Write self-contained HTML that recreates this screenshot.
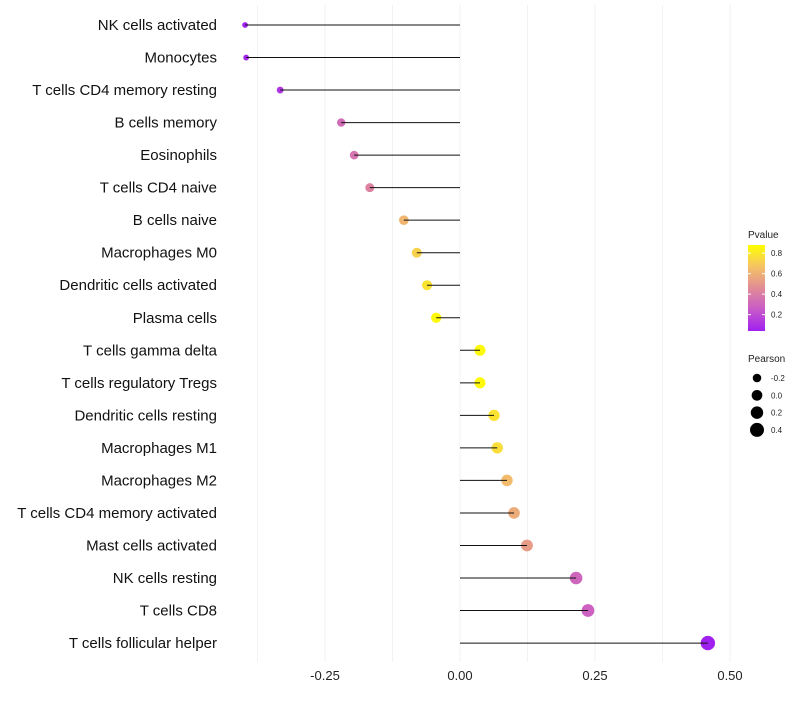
<!DOCTYPE html>
<html><head><meta charset="utf-8"><style>
body{margin:0;background:#fff;}
svg{font-family:"Liberation Sans",sans-serif;}
</style></head><body>
<svg id="chart" width="800" height="700"></svg>
<script>
const categories=["NK cells activated","Monocytes","T cells CD4 memory resting","B cells memory","Eosinophils","T cells CD4 naive","B cells naive","Macrophages M0","Dendritic cells activated","Plasma cells","T cells gamma delta","T cells regulatory  Tregs ","Dendritic cells resting","Macrophages M1","Macrophages M2","T cells CD4 memory activated","Mast cells activated","NK cells resting","T cells CD8","T cells follicular helper"];
const pearson=[-0.398,-0.396,-0.333,-0.220,-0.196,-0.167,-0.104,-0.080,-0.061,-0.044,0.037,0.037,0.063,0.069,0.087,0.100,0.124,0.215,0.237,0.459];
const pvalue=[0.05,0.06,0.12,0.32,0.36,0.42,0.62,0.72,0.78,0.86,0.86,0.86,0.78,0.76,0.64,0.58,0.52,0.30,0.28,0.03];
const xTicks=[-0.25,0,0.25,0.5];
const xTickLabels=["-0.25","0.00","0.25","0.50"];
const pLegend=[0.8,0.6,0.4,0.2];
const sizeLegend=[-0.2,0.0,0.2,0.4];

const svg=document.getElementById('chart');
const NS="http://www.w3.org/2000/svg";
function el(t,a){const e=document.createElementNS(NS,t);for(const k in a)e.setAttribute(k,a[k]);return e;}
const xScale=v=>460+v*540;
const yScale=i=>25+i*32.53;
const rScale=p=>Math.sqrt(Math.max(3,28.6+50.8*p));
const stops=[[0,[160,32,240]],[0.25,[200,90,200]],[0.5,[225,140,150]],[0.75,[245,195,100]],[1,[255,255,0]]];
function color(p){const t=Math.max(0,Math.min(1,(p-0.04)/0.84));
 for(let i=0;i<stops.length-1;i++){const a=stops[i],b=stops[i+1];if(t<=b[0]){const f=(t-a[0])/(b[0]-a[0]);
 const c=a[1].map((v,j)=>Math.round(v+(b[1][j]-v)*f));return `rgb(${c})`;}}return 'rgb(255,255,0)';}
for(let g=-0.375;g<=0.5001;g+=0.125){
 const gl=el('line',{x1:xScale(g),x2:xScale(g),y1:5,y2:662,stroke:'#f2f2f2','stroke-width':1});
 
 
 svg.appendChild(gl);}
xTicks.forEach((v,i)=>{const t=el('text',{x:xScale(v),y:680,'text-anchor':'middle','font-size':13,fill:'#222'});
 t.textContent=xTickLabels[i];
 
 
 svg.appendChild(t);});
categories.forEach((c,i)=>{
 const y=yScale(i);
 const t=el('text',{x:217,y:y+5,'text-anchor':'end','font-size':15,fill:'#111'});t.textContent=c;
 
 
 svg.appendChild(t);
 const pt=el('circle',{cx:xScale(pearson[i]),cy:y,r:rScale(pearson[i]),fill:color(pvalue[i])});
 
 
 svg.appendChild(pt);
 const ln=el('line',{x1:xScale(0),x2:xScale(pearson[i]),y1:y,y2:y,stroke:'#111','stroke-width':1});
 
 
 svg.appendChild(ln);
});
const defs=el('defs',{});const lg=el('linearGradient',{id:'pg',x1:0,y1:1,x2:0,y2:0});
stops.forEach(s=>lg.appendChild(el('stop',{offset:s[0],'stop-color':`rgb(${s[1]})`})));defs.appendChild(lg);svg.appendChild(defs);
const lt=el('text',{x:748,y:238,'font-size':10,fill:'#222'});lt.textContent='Pvalue';


svg.appendChild(lt);
const bar=el('rect',{x:748,y:245,width:17,height:86,fill:'url(#pg)'});


svg.appendChild(bar);
pLegend.forEach(v=>{const y=331-(v-0.04)/0.84*86;
 svg.appendChild(el('line',{x1:748,x2:751,y1:y,y2:y,stroke:'#fff'}));
 svg.appendChild(el('line',{x1:762,x2:765,y1:y,y2:y,stroke:'#fff'}));
 const t=el('text',{x:771,y:y+3,'font-size':8,fill:'#222'});t.textContent=v.toFixed(1);
 
 
 svg.appendChild(t);});
const st=el('text',{x:748,y:362,'font-size':10,fill:'#222'});st.textContent='Pearson';


svg.appendChild(st);
sizeLegend.forEach((v,i)=>{const y=378+i*17.3;
 const c=el('circle',{cx:757,cy:y,r:rScale(v),fill:'#000'});
 
 
 svg.appendChild(c);
 const t=el('text',{x:771,y:y+3,'font-size':8,fill:'#222'});t.textContent=v.toFixed(1);
 
 
 svg.appendChild(t);});
</script>
</body></html>
